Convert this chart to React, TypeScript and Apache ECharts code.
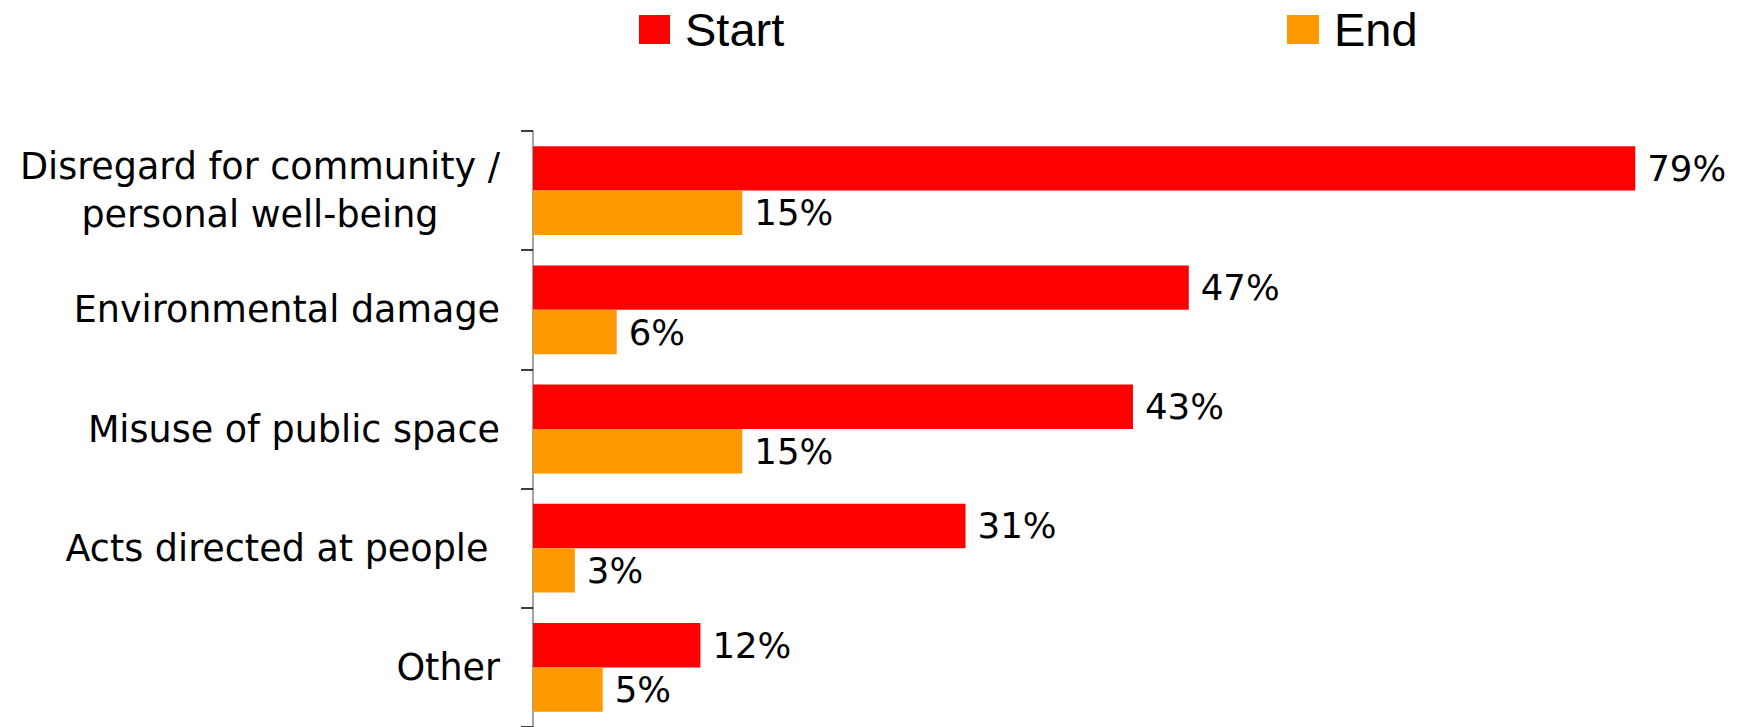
import React, { useEffect, useRef } from "react";
import * as echarts from "echarts";

const categories = [
  "Disregard for community /\npersonal well-being",
  "Environmental damage",
  "Misuse of public space",
  "Acts directed at people ",
  "Other",
];
const startValues = [79, 47, 43, 31, 12];
const endValues = [15, 6, 15, 3, 5];
const seriesNames = ["Start", "End"];
const colors = ["#FF0000", "#FF9900"];

const LABEL_FONT = "'DejaVu Sans', sans-serif";
const LEGEND_FONT = "'Liberation Sans', Arial, sans-serif";

export default function App() {
  const ref = useRef<HTMLDivElement>(null);
  useEffect(() => {
    if (!ref.current) return;
    const chart = echarts.init(ref.current, null, { renderer: "svg" });
    const dataLabel = {
      show: true,
      position: "right",
      distance: 12,
      formatter: "{c}%",
      color: "#000",
      fontFamily: LABEL_FONT,
      fontSize: 35.5,
    };
    const legendText = {
      fontFamily: LEGEND_FONT,
      fontSize: 47,
      color: "#000",
      lineHeight: 47,
      padding: [0, 0, 0, 10],
    };
    chart.setOption({
      animation: false,
      backgroundColor: "#fff",
      legend: [
        {
          data: [seriesNames[0]],
          left: 639,
          top: 6,
          padding: 0,
          itemWidth: 31,
          itemHeight: 29,
          icon: "rect",
          textStyle: legendText,
        },
        {
          data: [seriesNames[1]],
          left: 1287,
          top: 6,
          padding: 0,
          itemWidth: 32,
          itemHeight: 29,
          icon: "rect",
          textStyle: legendText,
        },
      ],
      grid: { left: 533, top: 131, bottom: 0, width: 1186, containLabel: false },
      xAxis: {
        type: "value",
        min: 0,
        max: 85,
        show: false,
        splitLine: { show: false },
      },
      yAxis: {
        type: "category",
        inverse: true,
        data: categories,
        axisLine: { show: true, lineStyle: { color: "#868686", width: 1.5 } },
        axisTick: { show: true, length: 12, lineStyle: { color: "#000", width: 1.5 } },
        axisLabel: {
          margin: 33,
          color: "#000",
          fontFamily: LABEL_FONT,
          fontSize: 36.5,
          formatter: (v: string) =>
            v
              .split("\n")
              .map((l) => `{c|${l}}`)
              .join("\n"),
          rich: {
            c: {
              fontFamily: LABEL_FONT,
              fontSize: 36.5,
              color: "#000",
              align: "center",
              lineHeight: 48,
            },
          },
        },
      },
      series: [
        {
          name: seriesNames[0],
          type: "bar",
          data: startValues,
          itemStyle: { color: colors[0] },
          barGap: "0%",
          barCategoryGap: "25.5%",
          label: dataLabel,
        },
        {
          name: seriesNames[1],
          type: "bar",
          data: endValues,
          itemStyle: { color: colors[1] },
          barGap: "0%",
          barCategoryGap: "25.5%",
          label: dataLabel,
        },
      ],
    });
    return () => chart.dispose();
  }, []);
  return (
    <div
      ref={ref}
      style={{ position: "fixed", left: 0, top: 0, width: 1746, height: 727 }}
    />
  );
}
